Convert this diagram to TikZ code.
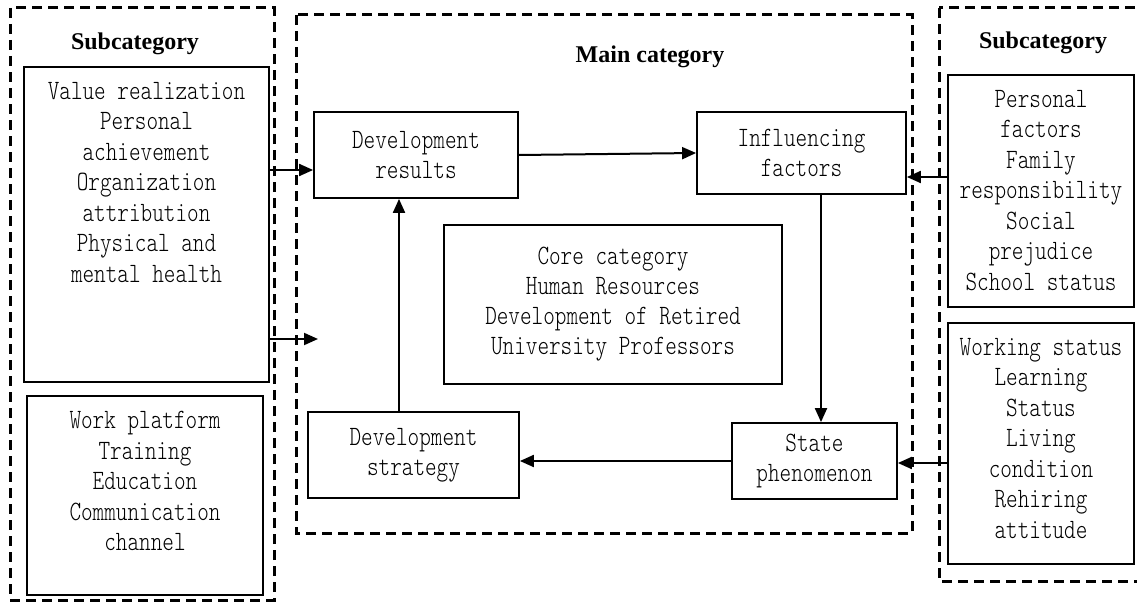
\documentclass[tikz,border=0pt]{standalone}
\usepackage{fontspec}
\setmainfont{Liberation Serif}
\newfontfamily\boxfont{lmmonolt10-regular.otf}[FakeStretch=0.79]
\usetikzlibrary{positioning,arrows.meta}

\tikzset{
  dashbox/.style={draw, line width=3pt, dash pattern=on 10pt off 6pt},
  subbox/.style={draw, line width=1.8pt, inner sep=0pt},
  mainbox/.style={draw, line width=1.8pt, align=center, inner sep=0pt,
    font=\boxfont\fontsize{28}{30}\selectfont},
  boxtext/.style={align=center, inner sep=0pt,
    font=\boxfont\fontsize{28}{30.5}\selectfont},
  headtext/.style={font=\bfseries\fontsize{24}{28}\selectfont},
  arr/.style={-{Triangle[length=14pt,width=12pt]}, line width=2pt}
}

\begin{document}
\begin{tikzpicture}[x=1pt, y=-1pt]
    \useasboundingbox (0,0) rectangle (1137,602);

    % gestrichelte Rahmen
    \draw[dashbox] (10,8) rectangle (274,600);
    \draw[dashbox] (296,15) rectangle (912,533);
    \draw[dashbox] (939,8) rectangle (1160,581);

    % Ueberschriften
    \node[headtext] (subLeft) at (135,44) {Subcategory};
    \node[headtext] (mainHead) at (650,57) {Main category};
    \node[headtext] (subRight) at (1043,43) {Subcategory};

    % Subkategorien links
    \node[subbox, minimum width=245pt, minimum height=315pt] (valueBox) at (146.5,224.5) {};
    \node[boxtext, below=16pt of valueBox.north] (valueText) {Value realization\\Personal\\achievement\\Organization\\attribution\\Physical and\\mental health};
    \node[subbox, minimum width=236pt, minimum height=199pt] (platformBox) at (145,495.5) {};
    \node[boxtext, below=16pt of platformBox.north] (platformText) {Work platform\\Training\\Education\\Communication\\channel};

    % Subkategorien rechts
    \node[subbox, minimum width=186pt, minimum height=232pt] (factorBox) at (1041,191) {};
    \node[boxtext, below=16pt of factorBox.north] (factorText) {Personal\\factors\\Family\\responsibility\\Social\\prejudice\\School status};
    \node[subbox, minimum width=186pt, minimum height=241pt] (statusBox) at (1041,443.5) {};
    \node[boxtext, below=16pt of statusBox.north] (statusText) {Working status\\Learning\\Status\\Living\\condition\\Rehiring\\attitude};

    % Hauptkategorien
    \node[mainbox, minimum width=204pt, minimum height=86pt] (results) at (416,155) {Development\\results};
    \node[mainbox, minimum width=209pt, minimum height=82pt] (influence) at (801.5,153) {Influencing\\factors};
    \node[mainbox, minimum width=338pt, minimum height=159pt] (core) at (613,304.5) {Core category\\Human Resources\\Development of Retired\\University Professors};
    \node[mainbox, minimum width=211pt, minimum height=86pt] (strategy) at (413.5,455) {Development\\strategy};
    \node[mainbox, minimum width=165pt, minimum height=76pt] (phenomenon) at (814.5,461) {State\\phenomenon};

    % Verbindungslinien
    \coordinate (freeEnd) at (318,339);
    \draw[arr] ([yshift=-15pt]results.west -| valueBox.east) -- ([yshift=-15pt]results.west);
    \draw[arr] (valueBox.east |- freeEnd) -- (freeEnd);
    \draw[arr] (results.east) -- (influence.west);
    \draw[arr] ([xshift=19.5pt]influence.south) -- ([xshift=19.5pt]influence.south |- phenomenon.north);
    \draw[arr] (phenomenon.west) -- (phenomenon.west -| strategy.east);
    \draw[arr] ([xshift=-14.5pt]strategy.north) -- ([xshift=-14.5pt]strategy.north |- results.south);
    \draw[arr] ([yshift=14pt]factorBox.west) -- ([yshift=14pt]factorBox.west -| influence.east);
    \draw[arr] ([yshift=-19.5pt]statusBox.west) -- ([yshift=-19.5pt]statusBox.west -| phenomenon.east);
\end{tikzpicture}
\end{document}
